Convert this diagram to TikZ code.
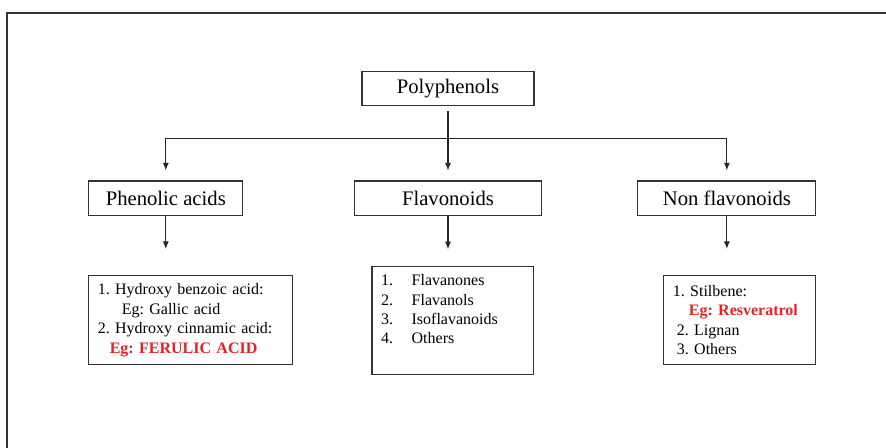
\documentclass[tikz,border=0pt]{standalone}
\usepackage{fontspec}
\setmainfont{Liberation Serif}
\usepackage{xcolor}
\usepackage{tikz}
\usetikzlibrary{arrows.meta,positioning}
\definecolor{egred}{RGB}{232,32,40}
\frenchspacing

\begin{document}
\begin{tikzpicture}[
    x=0.75pt, y=-0.75pt,
    group/.style={
      draw=black!80,
      line width=0.9pt,
      minimum height=26pt,
      inner sep=2pt,
      font=\fontsize{15.5}{18}\selectfont
    },
    list/.style={
      draw=black!80,
      line width=0.9pt,
      align=left,
      inner xsep=6.75pt,
      inner ysep=4pt,
      font=\fontsize{12}{14.6}\selectfont
    },
    flow/.style={-{Latex[length=2mm,width=1.6mm]},line width=0.8pt,black!85}
  ]
    \useasboundingbox (0,0) rectangle (886,448);
    \draw[line width=1pt,black!80] (886,13) -- (7,13) -- (7,448);
    \node[group,minimum width=129pt] (poly) at (448,88.5) {Polyphenols};
    \node[group,minimum width=140pt,below=55.5pt of poly] (flav) {Flavonoids};
    \node[group,minimum width=115.5pt,left=83pt of flav] (phen) {Phenolic acids};
    \node[group,minimum width=133.5pt,right=71.5pt of flav] (nonflav) {Non flavonoids};
    \node[list,text width=139.5pt,minimum height=67pt,below right=44pt and 0pt of phen.south west] (phenlist) {1. Hydroxy benzoic acid:\\
      \hspace*{18pt}Eg: Gallic acid\\
      2. Hydroxy cinnamic acid:\\
      \hspace*{9pt}\textcolor{egred}{\textbf{Eg: FERULIC ACID}}};
    \node[list,text width=107.5pt,text height=10pt,text depth=63pt,below=37.5pt of flav,xshift=3.5pt] (flavlist) {\begin{tabular}[t]{@{}p{23pt}@{}l@{}}
      1. & Flavanones\\
      2. & Flavanols\\
      3. & Isoflavanoids\\
      4. & Others
    \end{tabular}};
    \node[list,text width=100.5pt,minimum height=67pt,below left=44pt and 0pt of nonflav.south east] (nonlist) {1. Stilbene:\\
      \hspace*{12pt}\textcolor{egred}{\textbf{Eg: Resveratrol}}\\
      \hspace*{3pt}2. Lignan\\
      \hspace*{3pt}3. Others};
    \coordinate[below=24.4pt of poly.south] (bar);
    \draw[flow,shorten <=3.75pt,shorten >=7.5pt] (poly) -- (flav);
    \draw[flow,shorten >=7.5pt] (bar) -| (phen);
    \draw[flow,shorten >=7.5pt] (bar) -| (nonflav);
    \draw[flow,shorten >=19.5pt] (phen) -- (phen |- phenlist.north);
    \draw[flow,shorten >=12.75pt] (flav) -- (flav |- flavlist.north);
    \draw[flow,shorten >=19.5pt] (nonflav) -- (nonflav |- nonlist.north);
  \end{tikzpicture}
\end{document}
